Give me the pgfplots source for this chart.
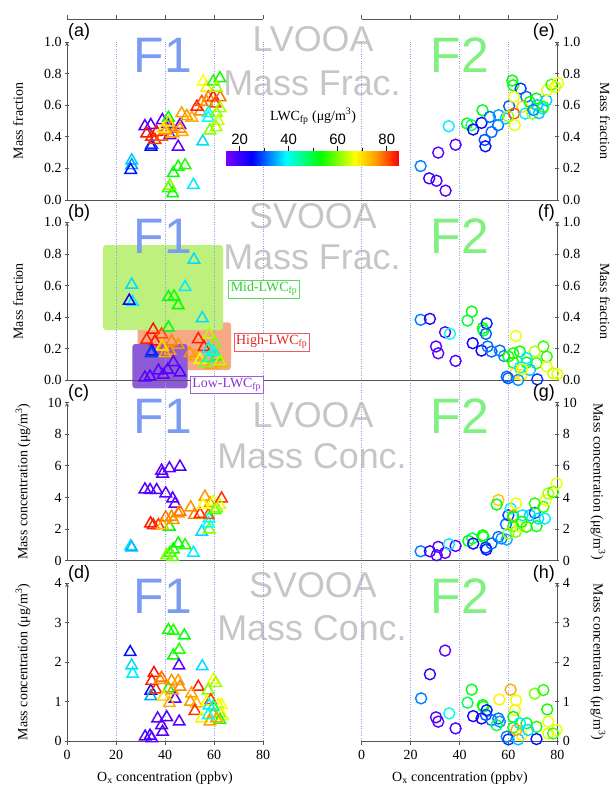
\documentclass[border=0pt]{standalone}
\usepackage{pgfplots}
\pgfplotsset{compat=1.18}
\usepackage{pgfplotstable}
\usepackage{fontspec}
\setmainfont{Liberation Serif}
\newfontfamily\arial{Liberation Sans}
\definecolor{axgray}{HTML}{555555}
\definecolor{wmgray}{HTML}{C6C6C6}
\definecolor{fone}{HTML}{7B9CF2}
\definecolor{ftwo}{HTML}{80F080}
\definecolor{dotc}{HTML}{9A9AE0}
\definecolor{boxgreen}{HTML}{BDF07C}
\definecolor{boxorange}{HTML}{F7A985}
\definecolor{boxpurple}{HTML}{8E5BD6}
\definecolor{midc}{HTML}{2FD02F}
\definecolor{highc}{HTML}{E02828}
\definecolor{lowc}{HTML}{8A35D0}

\pgfplotsset{
 colormap={lwcmap}{rgb255(0)=(127,0,255) rgb255(11)=(0,0,255) rgb255(25)=(0,255,255) rgb255(39)=(0,255,0) rgb255(53)=(255,255,0) rgb255(62)=(255,150,0) rgb255(71)=(255,0,0)},
 panel/.style={scale only axis, height=158bp, xmin=0, xmax=80, clip=false, enlargelimits=false,
   tick align=outside, major tick length=4bp,
   axis line style={-, draw=axgray, line width=0.8bp},
   every tick/.style={draw=axgray, line width=0.8bp},
   tick label style={font=\fontsize{14}{14}\selectfont},
   /pgf/number format/assume math mode=true,
   colormap name=lwcmap, point meta min=14, point meta max=85},
 leftp/.style={panel, width=196bp, axis y line=left},
 rightp/.style={panel, width=195.6bp, axis y line=right},
 noxax/.style={axis x line=none},
 botx/.style={axis x line=bottom, xtick={0,20,40,60,80}, xtick align=outside, x axis line style={-},
   xticklabel style={yshift=-1.5bp}},
 frac/.style={ymin=0, ymax=1, ytick={0,0.2,0.4,0.6,0.8,1},
   yticklabel style={/pgf/number format/.cd, fixed, fixed zerofill, precision=1}},
 tri/.style={scatter, only marks, scatter src=explicit, mark=triangle, mark size=6.6bp, line width=1.5bp,
   scatter/use mapped color={draw=mapped color, fill=white}},
 circ/.style={scatter, only marks, scatter src=explicit, mark=o, mark size=5.5bp, line width=1.4bp,
   scatter/use mapped color={draw=mapped color, fill=none}},
}

\pgfplotstableread{
x y c
42.0 0.41 17
26.4 0.25 36
26.4 0.22 34
26.0 0.19 26
31.8 0.467 18
34.2 0.474 18
38.9 0.505 17
41.0 0.48 19
46.1 0.474 17
45.4 0.337 17
34.3 0.337 24
34.5 0.35 28
41.4 0.52 53
32.5 0.42 84
34.5 0.40 83
36.6 0.43 84
35.9 0.38 82
38.6 0.40 80
40.5 0.44 76
42.7 0.46 78
43.3 0.42 75
46.1 0.45 77
47.0 0.43 74
41.4 0.49 70
39.3 0.45 69
43.4 0.17 52
45.4 0.21 54
48.2 0.22 55
41.3 0.074 56
43.1 0.042 53
42.0 0.09 60
51.6 0.095 38
55.4 0.37 37
46.8 0.548 75
48.9 0.53 76
51.0 0.52 74
54.4 0.56 77
53.0 0.59 83
55.0 0.62 80
55.6 0.75 67
57.0 0.71 69
57.7 0.65 77
59.7 0.65 84
62.5 0.65 78
60.4 0.61 81
59.7 0.75 55
62.4 0.77 54
61.0 0.71 62
57.0 0.62 76
57.7 0.55 40
57.7 0.52 39
61.0 0.55 61
61.7 0.50 64
60.9 0.46 62
58.3 0.44 60
62.5 0.58 62
}\tA

\pgfplotstableread{
x y c
26.4 0.605 37
26.8 0.495 38
25.4 0.503 24
51.8 0.763 37
48.2 0.59 38
55.2 0.393 37
41.4 0.526 52
43.7 0.53 54
45.4 0.474 53
41.4 0.334 52
35.2 0.32 84
38.6 0.29 80
35.9 0.245 84
32.5 0.256 83
39.3 0.21 76
42.0 0.186 75
42.7 0.245 77
45.4 0.224 76
40.0 0.171 74
38.8 0.214 70
34.6 0.182 26
34.4 0.17 28
31.8 0.017 17
33.9 0.023 18
39.3 0.034 17
41.1 0.066 18
43.4 0.114 17
46.1 0.049 18
37.3 0.061 17
53.6 0.26 83
50.2 0.171 76
52.2 0.15 75
55.9 0.21 83
58.1 0.29 63
60.4 0.235 60
54.3 0.13 66
59.0 0.097 75
63.1 0.108 74
56.3 0.108 60
61.1 0.15 55
62.4 0.12 63
57.7 0.20 38
59.7 0.18 40
57.7 0.14 42
}\tB

\pgfplotstableread{
x y c
26.0 0.91 37
26.4 0.82 35
38.6 5.69 17
39.0 5.5 18
41.8 5.84 17
46.1 5.94 18
31.8 4.5 18
33.9 4.46 17
36.6 4.46 18
40.3 4.25 17
43.1 3.93 18
44.1 3.6 17
41.8 2.14 53
34.1 2.35 84
35.2 2.24 83
37.3 2.24 82
39.0 2.24 72
40.3 2.73 78
42.7 2.77 77
43.4 2.56 76
45.4 2.98 76
46.1 3.09 78
42.0 0.49 56
43.4 0.70 54
45.4 1.08 53
48.2 0.97 55
40.7 0.34 60
43.1 0.23 58
51.6 0.49 38
55.0 1.82 37
58.0 1.97 60
57.7 2.35 39
57.9 2.66 40
50.5 3.36 76
52.0 2.88 77
54.3 2.94 83
57.7 2.88 80
56.3 4.04 76
58.4 3.62 75
55.6 3.51 67
59.7 3.72 66
60.4 3.19 56
61.1 3.30 60
63.1 3.93 82
62.4 3.51 65
}\tC

\pgfplotstableread{
x y c
25.8 2.25 26
26.4 1.91 37
26.8 1.70 38
41.4 2.81 54
43.4 2.79 55
47.9 2.67 52
43.4 2.16 53
45.8 2.31 55
45.7 1.91 17
55.2 1.89 37
34.2 1.27 26
34.2 1.13 34
41.4 1.33 53
44.1 1.07 17
35.5 1.72 84
34.6 1.52 83
36.3 1.30 82
38.0 1.54 76
38.6 1.60 78
42.7 1.52 76
45.4 1.52 75
46.1 1.37 77
43.0 1.28 76
39.3 1.12 70
41.8 0.96 74
37.0 0.57 17
40.7 0.60 18
38.6 0.40 17
39.0 0.23 18
45.8 0.49 17
31.9 0.11 18
33.9 0.13 20
34.6 0.07 17
53.6 1.37 83
50.8 1.20 75
50.4 0.99 76
52.9 0.95 73
52.2 0.76 82
59.7 1.54 66
60.7 1.47 62
57.6 1.28 60
58.7 1.03 82
57.0 0.99 67
54.9 0.57 66
59.7 0.68 76
58.3 0.49 75
61.7 0.91 66
62.4 0.70 60
63.0 0.91 67
63.5 0.63 66
62.4 0.53 55
61.0 0.57 75
59.7 0.86 45
58.0 0.90 38
57.6 0.65 40
}\tD

\pgfplotstableread{
x y c
24.1 0.215 32
27.6 0.137 20
30.6 0.122 18
34.3 0.059 18
31.3 0.30 17
38.4 0.35 18
35.6 0.467 38
43.1 0.484 52
44.9 0.474 46
49.4 0.568 52
45.6 0.446 23
49.0 0.488 24
50.3 0.38 29
50.6 0.34 26
53.1 0.43 31
55.8 0.474 31
52.4 0.526 31
56.0 0.537 34
60.3 0.594 30
58.9 0.516 36
61.6 0.756 53
62.0 0.726 52
65.0 0.705 28
67.3 0.653 31
62.3 0.653 66
65.7 0.59 70
62.3 0.547 80
62.6 0.474 66
59.9 0.53 62
66.9 0.547 38
68.7 0.62 54
71.4 0.642 52
69.8 0.547 62
73.9 0.58 38
75.5 0.63 36
75.8 0.695 66
77.6 0.73 56
80.3 0.74 66
79.2 0.716 65
71.7 0.60 36
70.2 0.57 32
72.5 0.55 36
74.3 0.59 55
}\tE

\pgfplotstableread{
x y c
24.1 0.383 32
27.9 0.389 22
34.1 0.304 18
36.1 0.294 40
30.4 0.214 18
31.3 0.171 17
38.4 0.123 18
45.0 0.435 52
43.3 0.378 50
49.5 0.33 52
49.8 0.315 50
51.1 0.36 27
50.8 0.294 30
45.4 0.235 24
49.0 0.188 24
51.5 0.214 31
53.1 0.182 31
56.5 0.188 31
58.2 0.154 33
63.1 0.28 66
62.0 0.171 54
64.7 0.182 53
62.0 0.112 55
67.4 0.112 52
71.5 0.108 56
74.3 0.214 56
75.7 0.15 55
70.8 0.182 63
62.7 0.044 70
65.4 0.034 69
75.7 0.087 66
78.3 0.044 64
80.0 0.04 66
59.3 0.023 31
59.9 0.013 30
64.0 0.002 33
71.8 0.006 28
68.8 0.066 36
67.4 0.14 38
60.0 0.15 55
64.7 0.08 38
65.6 0.07 66
}\tF

\pgfplotstableread{
x y c
24.1 0.59 32
27.9 0.59 20
31.3 0.87 18
30.7 0.34 18
34.1 0.49 17
38.4 0.93 18
35.7 1.04 38
43.6 1.25 52
45.2 1.40 48
49.5 1.60 52
49.8 1.50 54
45.6 1.08 23
50.7 0.82 28
51.0 0.70 26
53.1 1.08 31
55.9 1.50 31
59.3 1.33 35
57.2 1.40 33
55.9 3.83 72
55.2 3.55 52
59.0 2.30 31
60.0 2.87 29
60.9 3.30 38
63.1 3.62 66
62.0 2.87 74
62.0 2.77 53
62.0 2.18 55
60.0 1.71 62
63.0 1.82 60
64.7 2.14 66
65.8 2.87 38
67.4 2.14 55
68.8 2.87 36
70.8 3.02 30
71.5 2.18 54
72.2 2.66 37
74.9 2.66 38
70.8 3.62 55
74.3 3.40 56
75.3 3.83 66
76.3 4.25 62
78.3 4.35 57
79.7 4.88 66
65.4 2.45 54
}\tG

\pgfplotstableread{
x y c
34.1 2.29 17
27.9 1.69 21
24.3 1.08 32
30.4 0.60 18
31.3 0.49 17
35.8 0.70 40
38.4 0.32 18
45.0 1.30 52
43.3 0.97 48
49.5 0.91 52
49.8 0.87 54
45.6 0.63 23
49.0 0.57 23
51.1 0.78 26
50.8 0.66 29
53.1 0.53 31
55.9 0.57 31
56.5 0.49 33
55.2 0.40 48
56.3 1.05 68
60.9 1.30 74
63.1 1.03 66
62.7 0.78 68
62.0 0.61 52
62.0 0.34 53
67.4 0.45 50
71.5 0.36 55
70.8 1.20 60
74.3 1.29 55
75.9 0.80 54
76.3 0.49 66
76.3 0.19 65
79.7 0.28 66
78.3 0.19 56
59.3 0.11 32
60.0 0.04 28
64.0 0.04 36
71.5 0.05 26
65.4 0.15 68
63.3 0.28 74
68.1 0.28 37
64.7 0.45 38
}\tH

\begin{document}
\begin{tikzpicture}[x=1bp,y=1bp]
\path[use as bounding box] (0,0) rectangle (611,-785);

% regime boxes in (b)
\fill[boxorange, rounded corners=3bp] (137.7,-322.3) rectangle (231,-370);
\fill[boxgreen, rounded corners=3bp] (103,-245) rectangle (223,-330);
\fill[boxpurple, rounded corners=3bp] (132.3,-344) rectangle (187.7,-388.3);

% watermarks
\tikzset{wm/.style={anchor=base, text=wmgray, font=\arial\fontsize{36}{36}\selectfont, inner sep=0pt},
         fw/.style={anchor=base, font=\arial\fontsize{50}{50}\selectfont, inner sep=0pt}}
\foreach \yb/\ya/\yf/\ta/\tb in {51.7/95/72.7/LVOOA/Mass Frac., 228.3/269.3/253.3/SVOOA/Mass Frac., 427.5/468.3/433.5/LVOOA/Mass Conc., 597/640/613.5/SVOOA/Mass Conc.}{
  \node[wm] at (313,-\yb) {\ta};
  \node[wm] at (312,-\ya) {\tb};
  \node[fw, text=fone] at (162.7,-\yf) {F1};
  \node[fw, text=ftwo] at (460,-\yf) {F2};
}

% dotted guide lines
\foreach \xx in {116,165,214,263,361.7,410.6,459.5,508.4}{
  \draw[dotc, line width=0.6bp, dash pattern=on 1bp off 1.4bp] (\xx,-41.7) -- (\xx,-741);
}
% zero lines across
\foreach \yy in {200,380.3,560.6}{
  \draw[axgray, line width=0.8bp] (67,-\yy) -- (557,-\yy);
}
% top axis decoration
\draw[axgray, line width=0.8bp] (67,-19) -- (263,-19);
\draw[axgray, line width=0.8bp] (361.7,-19) -- (557.3,-19);
\foreach \xx in {67,116,165,214,263,361.7,410.6,459.5,508.4,557.3}{
  \draw[axgray, line width=0.8bp] (\xx,-19) -- (\xx,-15);
}

% ---- row a
\begin{axis}[leftp, noxax, frac, at={(67bp,-200bp)}, anchor=south west,
  colorbar horizontal,
  colorbar style={at={(parent axis.south west)}, anchor=south west, xshift=158bp, yshift=43.3bp,
    width=174bp, height=14.7bp, scale only axis,
    xtick={20,40,60,80}, minor xtick={30,50,70}, ytick=\empty,
    xtick pos=right, xticklabel pos=right, tick align=outside,
    major tick length=4.5bp, minor tick length=3bp,
    axis line style={draw=none},
    every tick/.style={draw=black, line width=0.7bp},
    /pgf/number format/assume math mode=true,
    xticklabel style={font=\arial\fontsize{15}{15}\selectfont, inner sep=1.5bp}}]
\addplot[tri] table[x=x,y=y,meta=c] {\tA};
\end{axis}
\begin{axis}[rightp, noxax, frac, at={(361.7bp,-200bp)}, anchor=south west]
\addplot[circ] table[x=x,y=y,meta=c] {\tE};
\end{axis}

% ---- row b
\begin{axis}[leftp, noxax, frac, at={(67bp,-380.3bp)}, anchor=south west]
\addplot[tri] table[x=x,y=y,meta=c] {\tB};
\end{axis}
\begin{axis}[rightp, noxax, frac, at={(361.7bp,-380.3bp)}, anchor=south west]
\addplot[circ] table[x=x,y=y,meta=c] {\tF};
\end{axis}

% ---- row c
\begin{axis}[leftp, noxax, ymin=0, ymax=10, ytick={0,2,4,6,8,10}, at={(67bp,-560.6bp)}, anchor=south west]
\addplot[tri] table[x=x,y=y,meta=c] {\tC};
\end{axis}
\begin{axis}[rightp, noxax, ymin=0, ymax=10, ytick={0,2,4,6,8,10}, at={(361.7bp,-560.6bp)}, anchor=south west]
\addplot[circ] table[x=x,y=y,meta=c] {\tG};
\end{axis}

% ---- row d
\begin{axis}[leftp, botx, ymin=0, ymax=4, ytick={0,1,2,3,4}, at={(67bp,-741bp)}, anchor=south west]
\addplot[tri] table[x=x,y=y,meta=c] {\tD};
\end{axis}
\begin{axis}[rightp, botx, ymin=0, ymax=4, ytick={0,1,2,3,4}, at={(361.7bp,-741bp)}, anchor=south west]
\addplot[circ] table[x=x,y=y,meta=c] {\tH};
\end{axis}

% colorbar label
\node[anchor=base, font=\fontsize{14}{14}\selectfont, inner sep=0pt] at (313,-120) {LWC\textsubscript{fp} (μg/m\textsuperscript{3})};

% regime labels
\tikzset{rl/.style={fill=white, line width=0.7bp, font=\fontsize{14}{14}\selectfont, inner sep=2bp}}
\node[rl, draw=midc!80, text=midc] at (264,-289) {Mid-LWC\textsubscript{fp}};
\node[rl, draw=highc!75, text=highc] at (271.7,-342) {High-LWC\textsubscript{fp}};
\node[rl, draw=lowc!80, text=lowc] at (226.7,-384.7) {Low-LWC\textsubscript{fp}};

% panel letters
\tikzset{pl/.style={font=\arial\fontsize{18}{18}\selectfont, inner sep=0pt}}
\node[pl, anchor=base west] at (68,-36.7) {(a)};
\node[pl, anchor=base west] at (68,-217.7) {(b)};
\node[pl, anchor=base west] at (68,-397.7) {(c)};
\node[pl, anchor=base west] at (68,-578) {(d)};
\node[pl, anchor=base east] at (555,-36.7) {(e)};
\node[pl, anchor=base east] at (555,-217.7) {(f)};
\node[pl, anchor=base east] at (555,-397.7) {(g)};
\node[pl, anchor=base east] at (555,-578) {(h)};

% axis labels
\tikzset{al/.style={font=\fontsize{14}{14}\selectfont, inner sep=0pt}}
\node[al, rotate=90] at (18,-121) {Mass fraction};
\node[al, rotate=90] at (18,-301.3) {Mass fraction};
\node[al, rotate=90] at (23,-481.6) {Mass concentration (μg/m\textsuperscript{3})};
\node[al, rotate=90] at (23,-662) {Mass concentration (μg/m\textsuperscript{3})};
\node[al, rotate=-90] at (605,-121) {Mass fraction};
\node[al, rotate=-90] at (605,-301.3) {Mass fraction};
\node[al, rotate=-90] at (598,-481.6) {Mass concentration (μg/m\textsuperscript{3})};
\node[al, rotate=-90] at (598,-662) {Mass concentration (μg/m\textsuperscript{3})};
\node[al, anchor=base] at (165,-781) {O\textsubscript{x} concentration (ppbv)};
\node[al, anchor=base] at (460,-781) {O\textsubscript{x} concentration (ppbv)};
\end{tikzpicture}
\end{document}
